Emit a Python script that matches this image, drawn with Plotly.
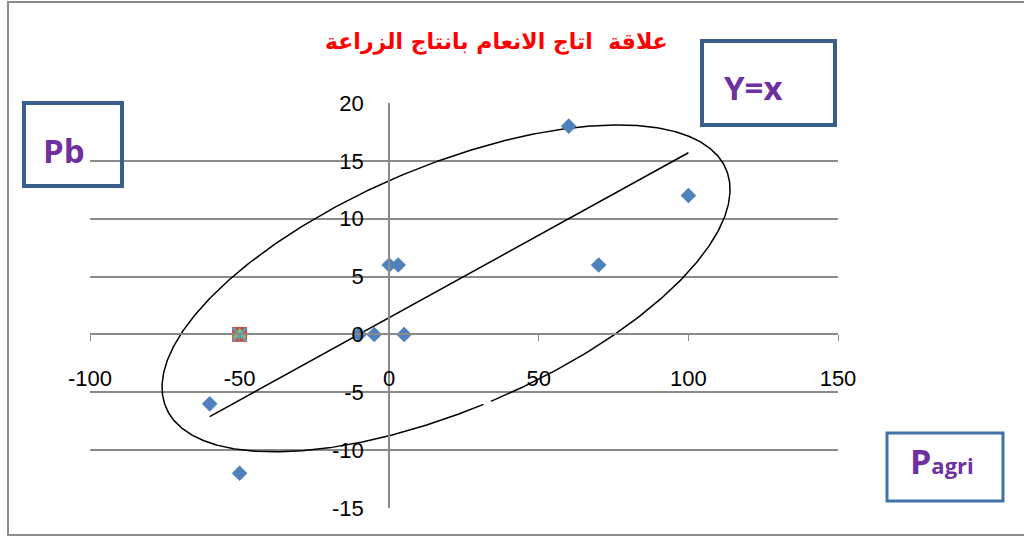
import numpy as np
import plotly.graph_objects as go

# ---- data ----
pagri = [-60, -50, -10, -5, 5, 0, 3, 60, 70, 100]
pb = [-6, -12, 0, 0, 0, 6, 6, 18, 6, 12]
extra_x = [-50]
extra_y = [0]
x_ticks = [-100, -50, 0, 50, 100, 150]
y_ticks = [-15, -10, -5, 0, 5, 10, 15, 20]
trend_x = [-60, 100]
trend_y = [-7.1, 15.7]
# ellipse: centre and conjugate semi-axes in data units
ell_c = (19.0, 3.98)
ell_u = (93.6, 10.3)
ell_v = (-15.8, 9.67)

W, H = 1024, 537
L, R, T, B = 90, 838, 103, 508


def px(x):
    return (x - L) / (R - L)


def py(y):
    return (B - y) / (B - T)


GRAY = "#8a8a8a"
fig = go.Figure()

# ellipse (with a tiny gap like the original drawing)
t = np.linspace(0, 2 * np.pi, 721)
ex = list(ell_c[0] + ell_u[0] * np.cos(t) + ell_v[0] * np.sin(t))
ey = list(ell_c[1] + ell_u[1] * np.cos(t) + ell_v[1] * np.sin(t))
gi = int(np.argmin([(a - 32) ** 2 / 9 + (b + 5.9) ** 2 for a, b in zip(ex, ey)]))
ex = ex[gi + 2:] + ex[:gi]
ey = ey[gi + 2:] + ey[:gi]
fig.add_trace(go.Scatter(x=ex, y=ey, mode="lines", line=dict(color="black", width=1.5),
                         hoverinfo="skip", showlegend=False))
fig.add_trace(go.Scatter(x=trend_x, y=trend_y, mode="lines", line=dict(color="black", width=1.5),
                         hoverinfo="skip", showlegend=False))

fig.add_trace(go.Scatter(x=pagri, y=pb, mode="markers",
                         marker=dict(symbol="diamond", size=12, color="#4F81BD"),
                         showlegend=False))
fig.add_trace(go.Scatter(x=extra_x, y=extra_y, mode="markers",
                         marker=dict(symbol="square", size=15, color="#C0504D"), showlegend=False))
fig.add_trace(go.Scatter(x=extra_x, y=extra_y, mode="markers",
                         marker=dict(symbol="triangle-up", size=13, color="#9BBB59"), showlegend=False))
fig.add_trace(go.Scatter(x=extra_x, y=extra_y, mode="markers",
                         marker=dict(symbol="x-thin", size=13, color="#4BACC6", line=dict(color="#4BACC6", width=2)),
                         showlegend=False))

fig.update_layout(
    width=W, height=H,
    margin=dict(l=L, r=W - R, t=T, b=H - B),
    paper_bgcolor="white", plot_bgcolor="white",
    font=dict(family="Liberation Sans, Arial", size=22, color="black"),
    xaxis=dict(range=[-100, 150], tickvals=x_ticks, ticktext=[str(v) for v in x_ticks],
               showgrid=False, zeroline=False,
               showline=True, linecolor=GRAY, linewidth=1.5,
               anchor="free", position=py(334), ticks="outside", ticklen=6, tickcolor=GRAY,
               ticklabelstandoff=19),
    yaxis=dict(range=[-15, 20], tickvals=y_ticks, ticktext=[str(v) for v in y_ticks],
               showgrid=True, gridcolor=GRAY, gridwidth=1.5,
               zeroline=False, showline=True, linecolor=GRAY, linewidth=1.5,
               anchor="free", position=px(389), ticks="", ticklabelstandoff=20),
)

shapes = []
shapes.append(dict(type="rect", xref="paper", yref="paper", x0=px(8), x1=px(1030), y0=py(535), y1=py(2),
                   line=dict(color="#8c8c8c", width=2), layer="above"))
shapes.append(dict(type="rect", xref="paper", yref="paper", x0=px(24), x1=px(122), y0=py(186), y1=py(103),
                   line=dict(color="#3B5F8C", width=4), layer="above"))
shapes.append(dict(type="rect", xref="paper", yref="paper", x0=px(702), x1=px(835), y0=py(125), y1=py(41),
                   line=dict(color="#3B5F8C", width=4), layer="above"))
shapes.append(dict(type="rect", xref="paper", yref="paper", x0=px(887), x1=px(1003), y0=py(501), y1=py(433),
                   line=dict(color="#4272A8", width=3), layer="above"))
fig.update_layout(shapes=shapes)

PURPLE = "#7030A0"
ann = []
ann.append(dict(text="علاقة\u00a0\u00a0اتاج الانعام بانتاج الزراعة", xref="paper", yref="paper",
                x=px(497), y=py(42), showarrow=False, xanchor="center", yanchor="middle",
                font=dict(family="DejaVu Sans", size=22, color="#FF0000", weight="bold")))
ann.append(dict(text="<b>Pb</b>", xref="paper", yref="paper", x=px(64), y=py(150), showarrow=False,
                xanchor="center", yanchor="middle",
                font=dict(family="Open Sans", size=33, color=PURPLE)))
ann.append(dict(text="<b>Y=x</b>", xref="paper", yref="paper", x=px(753), y=py(87), showarrow=False,
                xanchor="center", yanchor="middle",
                font=dict(family="Open Sans", size=33, color=PURPLE)))
ann.append(dict(text="<b>P</b><span style='font-size:22px'><b>agri</b></span>", xref="paper", yref="paper",
                x=px(908), y=py(486), showarrow=False, xanchor="left", yanchor="bottom",
                font=dict(family="Open Sans", size=34, color=PURPLE)))
fig.update_layout(annotations=ann)

fig.write_html("out.html")
